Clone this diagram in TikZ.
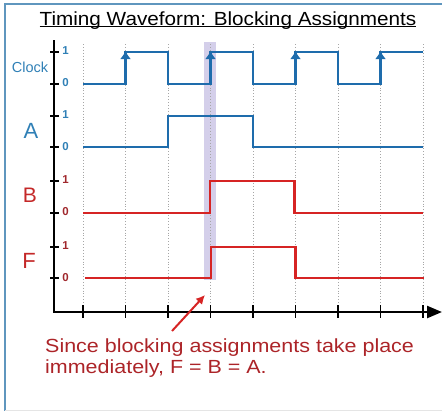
\documentclass[tikz,border=0pt]{standalone}
\usepackage{fontspec}
\setmainfont{Liberation Sans}
\newfontfamily\widefont[FakeStretch=1.13]{Liberation Sans}
\newfontfamily\titlefont[FakeStretch=1.09]{Liberation Sans}
\usetikzlibrary{arrows.meta}
\definecolor{wblue}{RGB}{30,108,172}
\definecolor{lblue}{RGB}{48,128,182}
\definecolor{wred}{RGB}{214,36,36}
\definecolor{lred}{RGB}{196,40,40}
\definecolor{nred}{RGB}{160,40,45}
\definecolor{tred}{RGB}{172,36,40}
\definecolor{framec}{RGB}{95,150,190}
\definecolor{bandc}{RGB}{212,207,234}
\newcommand{\ulinetext}[1]{{\setbox0\hbox{#1}\rlap{\rule[-1.8pt]{\wd0}{1.3pt}}\box0}}
\tikzset{
  wave/.style={line width=2.5pt, line join=miter},
  axisline/.style={line width=2.4pt, black},
  tickmark/.style={line width=1.8pt, black},
  grid line/.style={gray!70, dotted, line width=0.9pt},
  lvl/.style={font=\fontsize{11.5}{12}\selectfont\bfseries, inner sep=0pt},
  sig/.style={inner sep=0pt},
  edgearrow/.style={wblue, line width=2.5pt, -{Latex[length=8pt,width=11pt]}},
}
\begin{document}
\begin{tikzpicture}[x=1pt,y=-1pt]
\useasboundingbox (0,0) rectangle (442,413);
% frame
\draw[framec, line width=1.6pt] (450,4) -- (5,4) -- (5,411);
\draw[gray!20, line width=0.8pt] (5,410) -- (450,410);
% title
\node[inner sep=0pt, anchor=base] (title) at (228,25.5)
  {\titlefont\fontsize{19}{24}\selectfont\ulinetext{Timing Waveform: Blocking Assignments}};
% highlight band
\fill[bandc] (204,42) rectangle (216,280);
% grid
\foreach \k in {0,...,8} {
  \draw[grid line] ({83+42.5*\k},44) -- ({83+42.5*\k},312);
}
% axes
\draw[axisline] (54,40) -- (54,312) -- (428,312);
\draw[axisline, -{Triangle[length=15pt,width=12pt]}] (420,312) -- (442,312);
\foreach \k in {0,...,8} {
  \draw[tickmark] ({83+42.5*\k},305) -- ({83+42.5*\k},318);
}
\foreach \yy in {52,84,116,147,181,213,247,278} {
  \draw[tickmark] (50,\yy) -- (58.5,\yy);
}
% level labels
\node[lvl, lblue] (c1) at (65.5,51) {1};
\node[lvl, lblue] (c0) at (65.5,83) {0};
\node[lvl, lblue] (a1) at (65.5,115) {1};
\node[lvl, lblue] (a0) at (65.5,147) {0};
\node[lvl, nred] (b1) at (65.5,180) {1};
\node[lvl, nred] (b0) at (65.5,212) {0};
\node[lvl, nred] (f1) at (65.5,246) {1};
\node[lvl, nred] (f0) at (65.5,278) {0};
% signal names
\node[sig, lblue, font=\fontsize{14.5}{15}\selectfont] (clk) at (30,67) {Clock};
\node[sig, lblue, font=\fontsize{22}{22}\selectfont] (A) at (31,131) {A};
\node[sig, lred, font=\fontsize{21}{21}\selectfont] (B) at (30,195) {B};
\node[sig, lred, font=\fontsize{22}{22}\selectfont] (F) at (29,261) {F};
% clock
\draw[wave, wblue] (83,84) -- (125.5,84) -- (125.5,52) -- (168,52) -- (168,84)
  -- (210.5,84) -- (210.5,52) -- (253,52) -- (253,84) -- (295.5,84) -- (295.5,52)
  -- (338,52) -- (338,84) -- (380.5,84) -- (380.5,52) -- (423,52);
\foreach \xx in {125.5,210.5,295.5,380.5} {
  \draw[edgearrow] (\xx,70) -- (\xx,51);
}
% A
\draw[wave, wblue] (83,147) -- (168,147) -- (168,116) -- (253,116) -- (253,147) -- (423,147);
% B
\draw[wave, wred] (83,213) -- (210,213) -- (210,181) -- (294.5,181) -- (294.5,213) -- (423,213);
% F
\draw[wave, wred] (85,278) -- (211,278) -- (211,247) -- (295.5,247) -- (295.5,278) -- (424,278);
% note
\node[tred, anchor=west, align=left, inner sep=0pt,
      font=\widefont\fontsize{19}{21.5}\selectfont] (note) at (45,358)
  {Since blocking assignments take place\\immediately, F = B = A.};
\coordinate (ptail) at (172,331);
\coordinate (phead) at (205,295);
\draw[wred, line width=2pt, -{Latex[length=9pt,width=9pt]}] (ptail) -- (phead);
\end{tikzpicture}
\end{document}
